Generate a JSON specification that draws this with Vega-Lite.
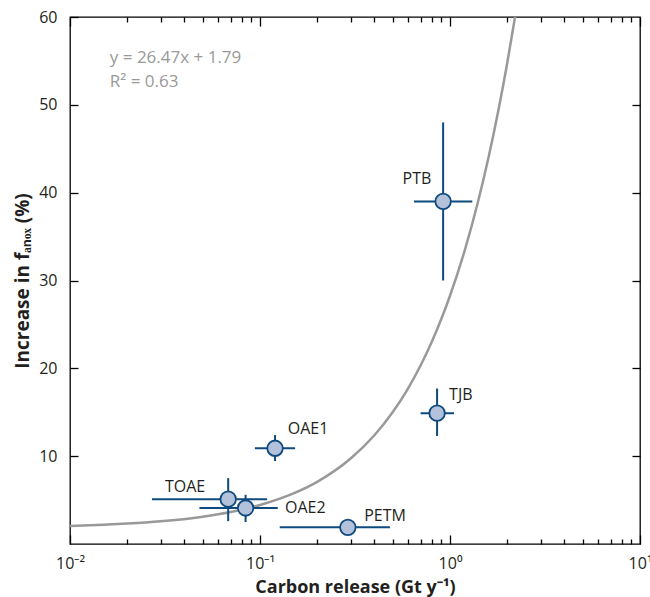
{
  "$schema": "https://vega.github.io/schema/vega-lite/v6.json",
  "width": 570,
  "height": 527,
  "autosize": "none",
  "padding": {"left": 70, "top": 17, "right": 10, "bottom": 53},
  "config": {
    "view": {"stroke": "black", "strokeWidth": 1.3},
    "font": "Open Sans",
    "axis": {"grid": false, "domain": false, "tickColor": "black", "tickWidth": 1.3, "labelColor": "#231f20", "labelFontSize": 16, "titleColor": "#231f20"}
  },
  "datasets": {
    "events": [
      {"event": "PTB", "x": 0.92, "y": 39, "xlo": 0.646, "xhi": 1.31, "ylo": 30, "yhi": 48, "lx": 0.67, "ly": 41.5},
      {"event": "TJB", "x": 0.855, "y": 14.9, "xlo": 0.70, "xhi": 1.05, "ylo": 12.3, "yhi": 17.7, "lx": 1.14, "ly": 17.0},
      {"event": "OAE1", "x": 0.12, "y": 10.9, "xlo": 0.094, "xhi": 0.153, "ylo": 9.45, "yhi": 12.4, "lx": 0.179, "ly": 13.1},
      {"event": "TOAE", "x": 0.068, "y": 5.1, "xlo": 0.027, "xhi": 0.109, "ylo": 2.6, "yhi": 7.5, "lx": 0.0403, "ly": 6.5},
      {"event": "OAE2", "x": 0.084, "y": 4.1, "xlo": 0.048, "xhi": 0.124, "ylo": 2.5, "yhi": 5.6, "lx": 0.173, "ly": 4.1},
      {"event": "PETM", "x": 0.29, "y": 1.9, "xlo": 0.127, "xhi": 0.483, "ylo": null, "yhi": null, "lx": 0.455, "ly": 3.2}
    ],
    "fit": [
      {"x": 0.01, "y": 2.05}, {"x": 0.015, "y": 2.19}, {"x": 0.02, "y": 2.32}, {"x": 0.03, "y": 2.58},
      {"x": 0.05, "y": 3.11}, {"x": 0.07, "y": 3.64}, {"x": 0.1, "y": 4.44}, {"x": 0.15, "y": 5.76},
      {"x": 0.2, "y": 7.08}, {"x": 0.3, "y": 9.73}, {"x": 0.4, "y": 12.38}, {"x": 0.5, "y": 15.03},
      {"x": 0.6, "y": 17.67}, {"x": 0.7, "y": 20.32}, {"x": 0.8, "y": 22.97}, {"x": 0.9, "y": 25.61},
      {"x": 1.0, "y": 28.26}, {"x": 1.2, "y": 33.55}, {"x": 1.4, "y": 38.85}, {"x": 1.6, "y": 44.14},
      {"x": 1.8, "y": 49.44}, {"x": 2.0, "y": 54.73}, {"x": 2.2, "y": 60.02}
    ],
    "eq": [
      {"t": "y = 26.47x + 1.79", "x": 0.0162, "y": 55.3},
      {"t": "R² = 0.63", "x": 0.0162, "y": 52.6}
    ]
  },
  "layer": [
    {
      "data": {"name": "fit"},
      "mark": {"type": "line", "color": "#999999", "strokeWidth": 2.5, "clip": true, "interpolate": "monotone"},
      "encoding": {
        "x": {"field": "x", "type": "quantitative", "scale": {"type": "log", "domain": [0.01, 10], "nice": false},
          "axis": {"orient": "top", "labels": false, "title": null,
            "values": [0.01,0.02,0.03,0.04,0.05,0.06,0.07,0.08,0.09,0.1,0.2,0.3,0.4,0.5,0.6,0.7,0.8,0.9,1,2,3,4,5,6,7,8,9,10],
            "tickSize": {"condition": {"test": "abs(log(datum.value)/LN10 - round(log(datum.value)/LN10)) < 1e-6", "value": -9}, "value": -5}}},
        "y": {"field": "y", "type": "quantitative", "scale": {"domain": [0, 60], "nice": false},
          "axis": {"orient": "right", "labels": false, "title": null, "values": [10,20,30,40,50], "tickSize": -8}}
      }
    },
    {
      "data": {"name": "events"},
      "mark": {"type": "rule", "color": "#0f4a7e", "strokeWidth": 2},
      "encoding": {
        "x": {"field": "xlo", "type": "quantitative", "axis": null},
        "x2": {"field": "xhi"},
        "y": {"field": "y", "type": "quantitative", "axis": null}
      }
    },
    {
      "data": {"name": "events"},
      "transform": [{"filter": "isValid(datum.ylo)"}],
      "mark": {"type": "rule", "color": "#0f4a7e", "strokeWidth": 2},
      "encoding": {
        "x": {"field": "x", "type": "quantitative", "axis": null},
        "y": {"field": "ylo", "type": "quantitative", "axis": null},
        "y2": {"field": "yhi"}
      }
    },
    {
      "data": {"name": "events"},
      "mark": {"type": "point", "shape": "circle", "filled": false, "fill": "#b3c2da", "fillOpacity": 1, "stroke": "#0f4a7e", "strokeWidth": 1.8, "size": 240, "opacity": 1},
      "encoding": {
        "x": {"field": "x", "type": "quantitative",
          "axis": {"orient": "bottom", "title": "Carbon release (Gt y⁻¹)", "titleFontWeight": "bold", "titleFontSize": 18, "titlePadding": 3,
            "values": [0.01,0.02,0.03,0.04,0.05,0.06,0.07,0.08,0.09,0.1,0.2,0.3,0.4,0.5,0.6,0.7,0.8,0.9,1,2,3,4,5,6,7,8,9,10],
            "labelExpr": "abs(datum.value-0.01)<1e-9 ? '10⁻²' : abs(datum.value-0.1)<1e-9 ? '10⁻¹' : abs(datum.value-1)<1e-9 ? '10⁰' : abs(datum.value-10)<1e-9 ? '10¹' : ''",
            "labelFlush": false, "labelPadding": 20, "labelOverlap": false,
            "tickSize": {"condition": {"test": "abs(log(datum.value)/LN10 - round(log(datum.value)/LN10)) < 1e-6", "value": -9}, "value": -5}}},
        "y": {"field": "y", "type": "quantitative",
          "axis": {"orient": "left", "title": "Increase in fₐₙₒₓ (%)", "titleFontWeight": "bold", "titleFontSize": 19, "titlePadding": 6,
            "values": [10,20,30,40,50,60], "tickSize": -8, "labelPadding": 21}}
      }
    },
    {
      "data": {"name": "events"},
      "mark": {"type": "text", "fontSize": 16, "color": "#231f20", "align": "center", "baseline": "middle"},
      "encoding": {
        "x": {"field": "lx", "type": "quantitative", "axis": null},
        "y": {"field": "ly", "type": "quantitative", "axis": null},
        "text": {"field": "event"}
      }
    },
    {
      "data": {"name": "eq"},
      "mark": {"type": "text", "fontSize": 17, "color": "#999999", "align": "left", "baseline": "middle"},
      "encoding": {
        "x": {"field": "x", "type": "quantitative", "axis": null},
        "y": {"field": "y", "type": "quantitative", "axis": null},
        "text": {"field": "t"}
      }
    }
  ],
  "resolve": {"axis": {"x": "independent", "y": "independent"}}
}
